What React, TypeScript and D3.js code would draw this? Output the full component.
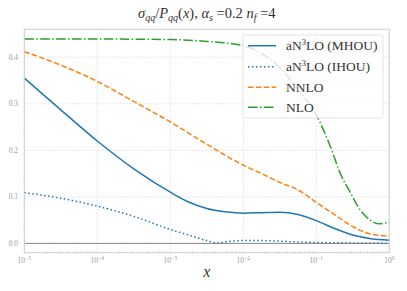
import React, { useEffect, useRef } from 'react';
import * as d3 from 'd3';

// x positions are read in decades (log10 x)
const mhouLogX = [-5, -4.5, -4, -3.5, -3, -2.75, -2.5, -2.25, -2, -1.75, -1.5, -1.25, -1, -0.75, -0.5, -0.25, 0];
const mhouY = [0.355, 0.287, 0.220, 0.160, 0.110, 0.089, 0.075, 0.068, 0.065, 0.066, 0.067, 0.062, 0.049, 0.032, 0.018, 0.010, 0.007];

const ihouLogX = [-5, -4.5, -4, -3.5, -3, -2.75, -2.5, -2.35, -2.2, -2, -1.75, -1.5, -1.25, -1, -0.5, 0];
const ihouY = [0.109, 0.097, 0.080, 0.058, 0.030, 0.018, 0.006, 0.001, 0.004, 0.006, 0.006, 0.005, 0.003, 0.002, 0.001, 0.0005];

const nnloLogX = [-5, -4.5, -4, -3.5, -3, -2.5, -2, -1.75, -1.5, -1.25, -1, -0.75, -0.5, -0.25, 0];
const nnloY = [0.412, 0.383, 0.348, 0.305, 0.261, 0.213, 0.168, 0.150, 0.131, 0.115, 0.088, 0.062, 0.036, 0.020, 0.016];

const nloLogX = [-5, -4, -3, -2.5, -2, -1.75, -1.5, -1.25, -1, -0.8, -0.67, -0.53, -0.4, -0.26, -0.15, 0];
const nloY = [0.439, 0.439, 0.438, 0.434, 0.425, 0.408, 0.378, 0.330, 0.276, 0.205, 0.150, 0.108, 0.072, 0.050, 0.042, 0.046];

const yTicks = [0.0, 0.1, 0.2, 0.3, 0.4];
const xTickExps = [-5, -4, -3, -2, -1, 0];

const series = [
  { label: 'MHOU', logX: mhouLogX, y: mhouY, color: '#1f77b4', dash: null },
  { label: 'IHOU', logX: ihouLogX, y: ihouY, color: '#1f77b4', dash: '1.5,2.5' },
  { label: 'NNLO', logX: nnloLogX, y: nnloY, color: '#ff7f0e', dash: '5.5,2.4' },
  { label: 'NLO', logX: nloLogX, y: nloY, color: '#2ca02c', dash: '9.6,2.4,1.5,2.4' },
];

const W = 407;
const H = 291;
const M = { left: 24.3, right: 389.3, top: 29.3, bottom: 252.7 };
const SERIF = "'Liberation Serif', 'Times New Roman', serif";

export default function App() {
  const svgRef = useRef<SVGSVGElement>(null);

  useEffect(() => {
    if (!svgRef.current) return;
    const svg = d3.select(svgRef.current);
    svg.selectAll('*').remove();

    const x = d3.scaleLog().domain([1e-5, 1]).range([M.left, M.right]);
    const y = d3.scaleLinear().domain([-0.02, 0.46]).range([M.bottom, M.top]);

    // grid
    const grid = svg.append('g');
    xTickExps.forEach(e => {
      grid.append('line')
        .attr('x1', x(Math.pow(10, e))).attr('x2', x(Math.pow(10, e)))
        .attr('y1', M.top).attr('y2', M.bottom)
        .attr('stroke', '#d8d8d8').attr('stroke-width', 0.8).attr('stroke-dasharray', '1.5,1.5');
    });
    yTicks.forEach(t => {
      grid.append('line')
        .attr('x1', M.left).attr('x2', M.right)
        .attr('y1', y(t)).attr('y2', y(t))
        .attr('stroke', '#d8d8d8').attr('stroke-width', 0.8).attr('stroke-dasharray', '1.5,1.5');
    });

    // zero line
    svg.append('line')
      .attr('x1', M.left).attr('x2', M.right)
      .attr('y1', y(0)).attr('y2', y(0))
      .attr('stroke', '#888').attr('stroke-width', 1);

    // minor ticks (inward)
    const minor = svg.append('g');
    for (let e = -5; e < 0; e++) {
      for (let k = 2; k <= 9; k++) {
        const px = x(k * Math.pow(10, e));
        minor.append('line')
          .attr('x1', px).attr('x2', px)
          .attr('y1', M.bottom).attr('y2', M.bottom - 2)
          .attr('stroke', '#bbb').attr('stroke-width', 0.6);
      }
    }

    // curves
    const line = d3.line<[number, number]>()
      .x(d => x(Math.pow(10, d[0])))
      .y(d => y(d[1]))
      .curve(d3.curveMonotoneX);

    const plot = svg.append('g');
    series.forEach(s => {
      const pts: [number, number][] = s.logX.map((l, i) => [l, s.y[i]]);
      const p = plot.append('path')
        .attr('d', line(pts))
        .attr('fill', 'none')
        .attr('stroke', s.color)
        .attr('stroke-width', 1.5);
      if (s.dash) p.attr('stroke-dasharray', s.dash);
    });

    // frame
    svg.append('rect')
      .attr('x', M.left).attr('y', M.top)
      .attr('width', M.right - M.left).attr('height', M.bottom - M.top)
      .attr('fill', 'none').attr('stroke', '#cccccc').attr('stroke-width', 1);

    // y tick labels
    yTicks.forEach(t => {
      svg.append('text')
        .attr('x', 18).attr('y', y(t) + 2.5)
        .attr('text-anchor', 'end')
        .style('font-family', SERIF).attr('font-size', 7.5)
        .attr('fill', '#999')
        .text(t.toFixed(1));
    });

    // x tick labels
    xTickExps.forEach(e => {
      const t = svg.append('text')
        .attr('x', x(Math.pow(10, e))).attr('y', 263)
        .attr('text-anchor', 'middle')
        .style('font-family', SERIF).attr('font-size', 7.5)
        .attr('fill', '#999');
      t.append('tspan').text('10');
      t.append('tspan').attr('font-size', 5.5).attr('dy', -3).text(e === 0 ? '0' : '\u2212' + Math.abs(e));
    });

    // x label
    svg.append('text')
      .attr('x', (M.left + M.right) / 2).attr('y', 277)
      .attr('text-anchor', 'middle')
      .style('font-family', SERIF).attr('font-style', 'italic').attr('font-size', 16)
      .attr('fill', '#333')
      .text('x');

    // title
    const title = svg.append('text')
      .attr('x', (M.left + M.right) / 2).attr('y', 18)
      .attr('text-anchor', 'middle')
      .style('font-family', SERIF).attr('font-size', 14.5)
      .attr('fill', '#333');
    title.append('tspan').attr('font-style', 'italic').text('σ');
    title.append('tspan').attr('font-style', 'italic').attr('font-size', 10).attr('dy', 3).text('qq');
    title.append('tspan').attr('dy', -3).text('/');
    title.append('tspan').attr('font-style', 'italic').text('P');
    title.append('tspan').attr('font-style', 'italic').attr('font-size', 10).attr('dy', 3).text('qq');
    title.append('tspan').attr('dy', -3).text('(');
    title.append('tspan').attr('font-style', 'italic').text('x');
    title.append('tspan').text('),  ');
    title.append('tspan').attr('font-style', 'italic').text('α');
    title.append('tspan').attr('font-style', 'italic').attr('font-size', 10).attr('dy', 3).text('s');
    title.append('tspan').attr('dy', -3).text(' =0.2 ');
    title.append('tspan').attr('font-style', 'italic').text('n');
    title.append('tspan').attr('font-style', 'italic').attr('font-size', 10).attr('dy', 3).text('f');
    title.append('tspan').attr('dy', -3).text(' =4');

    // legend
    const lg = svg.append('g');
    lg.append('rect')
      .attr('x', 243).attr('y', 35).attr('width', 140).attr('height', 83)
      .attr('rx', 2.5)
      .attr('fill', 'white').attr('fill-opacity', 0.8)
      .attr('stroke', '#dddddd').attr('stroke-width', 0.8);
    const rows = [45.7, 66.7, 87.3, 107.3];
    const labels: (string | [string, string, string])[] = [
      ['aN', '3', 'LO (MHOU)'],
      ['aN', '3', 'LO (IHOU)'],
      'NNLO',
      'NLO',
    ];
    series.forEach((s, i) => {
      const ly = rows[i];
      const h = lg.append('line')
        .attr('x1', 248).attr('x2', 276)
        .attr('y1', ly).attr('y2', ly)
        .attr('stroke', s.color).attr('stroke-width', 1.5);
      if (s.dash) h.attr('stroke-dasharray', s.dash);
      const t = lg.append('text')
        .attr('x', 286).attr('y', ly + 4.5)
        .style('font-family', SERIF).attr('font-size', 13.5)
        .attr('fill', '#333');
      const lab = labels[i];
      if (typeof lab === 'string') {
        t.text(lab);
      } else {
        t.append('tspan').text(lab[0]);
        t.append('tspan').attr('font-size', 8.5).attr('dy', -5).text(lab[1]);
        t.append('tspan').attr('dy', 5).text(lab[2]);
      }
    });
  }, []);

  return (
    <svg
      ref={svgRef}
      width={W}
      height={H}
      style={{ position: 'absolute', left: 0, top: 0, background: 'white' }}
    />
  );
}
